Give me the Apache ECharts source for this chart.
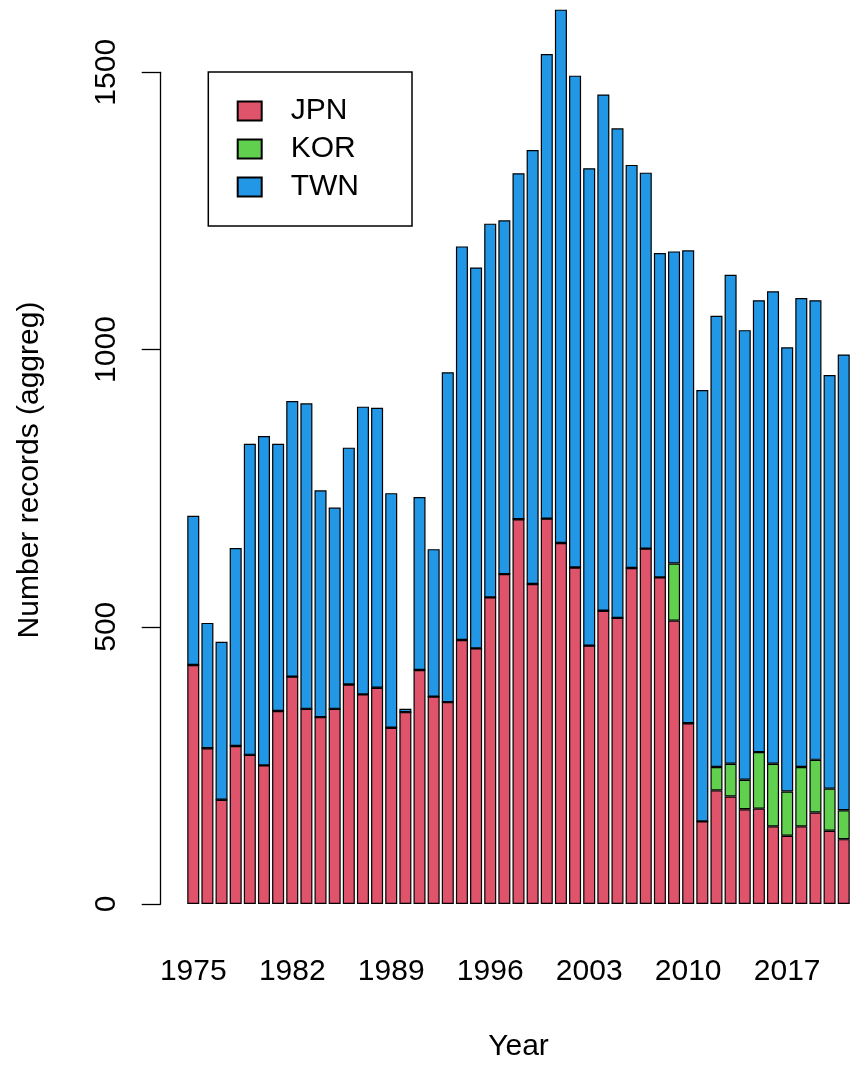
<!DOCTYPE html>
<html><head><meta charset="utf-8">
<script src="https://cdn.jsdelivr.net/npm/echarts@6/dist/echarts.min.js"></script>
<style>html,body{margin:0;padding:0;background:#fff}#c{width:851px;height:1067px}</style>
</head><body><div id="c"></div>
<script>
const years = ['1975','1976','1977','1978','1979','1980','1981','1982','1983','1984','1985','1986','1987','1988','1989','1990','1991','1992','1993','1994','1995','1996','1997','1998','1999','2000','2001','2002','2003','2004','2005','2006','2007','2008','2009','2010','2011','2012','2013','2014','2015','2016','2017','2018','2019','2020','2021'];
const jpn = [431,281,188,285,269,250,348,410,352,337,352,396,378,390,318,346,422,374,364,476,461,553,595,694,577,695,651,607,466,529,516,606,641,589,511,326,149,205,194,171,172,140,123,140,165,132,117];
const kor = [0,0,0,0,0,0,0,0,0,0,0,0,0,0,0,0,0,0,0,0,0,0,0,0,0,0,0,0,0,0,0,0,0,0,103,0,0,42,59,53,102,113,80,107,95,76,52];
const twn = [269,226,285,357,561,594,482,497,551,409,363,427,519,505,423,6,312,266,595,710,687,674,638,624,783,838,962,887,861,931,883,727,678,585,563,853,778,814,882,811,815,852,801,846,829,746,822];
const yTicks = [0, 500, 1000, 1500];
const seriesNames = ['JPN', 'KOR', 'TWN'];
const seriesColors = ['#DF536B', '#61D04F', '#2297E6'];

const FONT = 'Liberation Sans, Arial, Helvetica, sans-serif';
const chart = echarts.init(document.getElementById('c'), null, {renderer: 'canvas'});
const dataSets = [jpn, kor, twn];
chart.setOption({
  animation: false,
  backgroundColor: '#ffffff',
  grid: {left: 186.2, right: 0.2, top: 72.3, bottom: 163},
  legend: {
    orient: 'vertical', left: 208.3, top: 72,
    padding: [24, 53, 24, 28.4],
    itemWidth: 24, itemHeight: 19, itemGap: 8,
    borderColor: '#000', borderWidth: 1.5,
    icon: 'rect',
    textStyle: {fontSize: 30, fontFamily: FONT, color: '#000', padding: [0, 0, 0, 24]},
    data: seriesNames
  },
  xAxis: {
    type: 'category', data: years,
    axisLine: {show: false}, axisTick: {show: false},
    axisLabel: {interval: 6, fontSize: 30, fontFamily: FONT, color: '#000', margin: 53}
  },
  yAxis: {
    type: 'value', min: yTicks[0], max: yTicks[yTicks.length - 1], interval: yTicks[1] - yTicks[0],
    offset: 25.5,
    splitLine: {show: false},
    axisLine: {show: true, lineStyle: {color: '#000', width: 1.3}},
    axisTick: {show: true, length: 19, lineStyle: {color: '#000', width: 1.3}},
    axisLabel: {rotate: 90, fontSize: 30, fontFamily: FONT, color: '#000', margin: 39,
      formatter: v => String(v)}
  },
  graphic: [
    {type: 'text', x: 30, y: 470, rotation: Math.PI / 2,
     style: {text: 'Number records (aggreg)', fontSize: 30, fontFamily: FONT, fill: '#000', align: 'center', verticalAlign: 'middle'}},
    {type: 'text', x: 518.5, y: 1047,
     style: {text: 'Year', fontSize: 30, fontFamily: FONT, fill: '#000', align: 'center', verticalAlign: 'middle'}}
  ],
  series: seriesNames.map((n, i) => ({
    name: n, type: 'bar', stack: 'total', data: dataSets[i],
    barCategoryGap: '15%', clip: false,
    itemStyle: {color: seriesColors[i], borderColor: '#000', borderWidth: 1.2}
  }))
});
</script>
</body></html>
